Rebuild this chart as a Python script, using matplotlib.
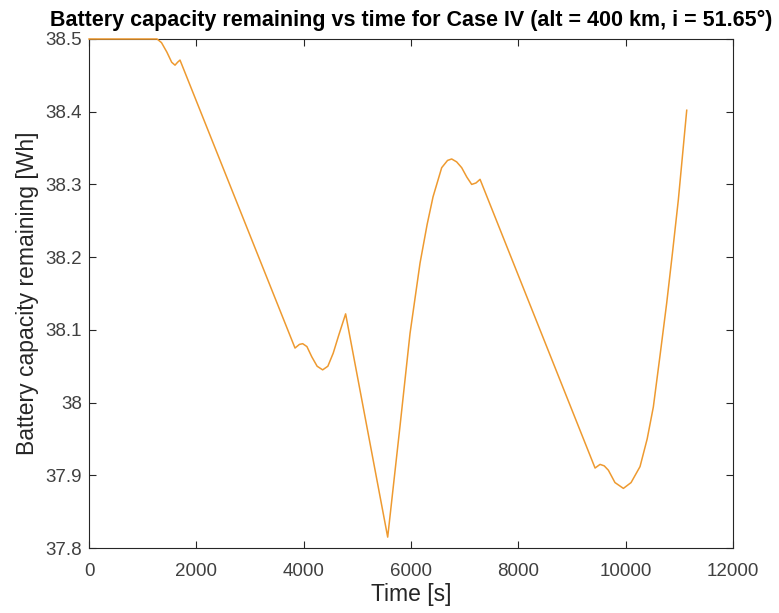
import numpy as np
import matplotlib
matplotlib.use("Agg")
import matplotlib.pyplot as plt
from matplotlib.ticker import FuncFormatter

# values
time_s = [0, 1267, 1350, 1450, 1540, 1602, 1650, 1695,
          3838, 3920, 3981, 4060, 4150, 4250, 4353, 4450, 4550, 4650, 4781,
          5565, 5795, 5981, 6168, 6300, 6410, 6571, 6680, 6757, 6850, 6944,
          7040, 7130, 7210, 7286,
          9429, 9522, 9600, 9677, 9800, 9957, 10100, 10267, 10400, 10515,
          10640, 10764, 10870, 10981, 11137]
capacity_wh = [38.5, 38.5, 38.495, 38.482, 38.468, 38.464, 38.468, 38.471,
               38.075, 38.080, 38.081, 38.077, 38.063, 38.050, 38.045, 38.050,
               38.068, 38.092, 38.122,
               37.815, 37.968, 38.095, 38.192, 38.245, 38.283, 38.323, 38.333,
               38.335, 38.331, 38.323, 38.310, 38.300, 38.302, 38.307,
               37.910, 37.915, 37.913, 37.907, 37.890, 37.882, 37.890, 37.912,
               37.950, 37.994, 38.065, 38.137, 38.205, 38.279, 38.402]

x_ticks = [0, 2000, 4000, 6000, 8000, 10000, 12000]
y_ticks = [37.8, 37.9, 38.0, 38.1, 38.2, 38.3, 38.4, 38.5]

plt.rcParams['font.family'] = ['Liberation Sans', 'DejaVu Sans']

fig = plt.figure(figsize=(7.79, 6.13), dpi=100)
ax = fig.add_axes([0.1143, 0.106, 0.8267, 0.8304])

ax.plot(time_s, capacity_wh, color='#EE9A30', linewidth=1.1, zorder=3, clip_on=False)

ax.set_xlim(0, 12000)
ax.set_ylim(37.8, 38.5)
ax.set_xticks(x_ticks)
ax.set_yticks(y_ticks)
ax.yaxis.set_major_formatter(FuncFormatter(lambda v, p: '%g' % round(v, 2)))

ax.tick_params(direction='in', top=True, right=True, length=5, width=0.8,
               colors='#262626', labelsize=13.5, labelcolor='#404040')
ax.tick_params(axis='x', pad=11)
ax.tick_params(axis='y', pad=5)
for s in ax.spines.values():
    s.set_color('#262626')
    s.set_linewidth(0.8)

ax.set_xlabel('Time [s]', fontsize=16.5, color='#262626', labelpad=2)
ax.set_ylabel('Battery capacity remaining [Wh]', fontsize=16.5, color='#262626', labelpad=5)
ax.set_title('Battery capacity remaining vs time for Case IV (alt = 400 km, i = 51.65°)',
             fontsize=15.5, fontweight='bold', color='black', pad=9)

fig.savefig('out.png', dpi=100, facecolor='white')
